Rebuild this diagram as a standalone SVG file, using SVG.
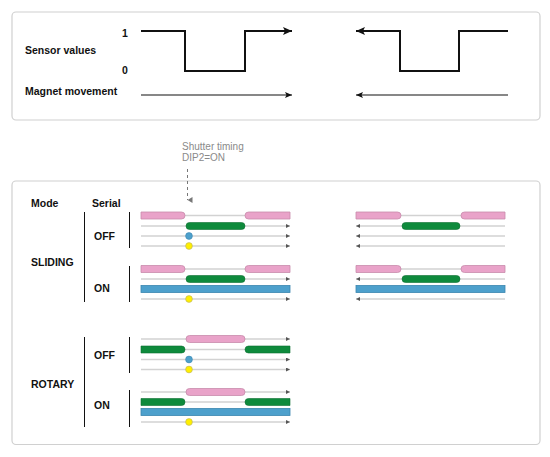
<svg xmlns="http://www.w3.org/2000/svg" width="550" height="457" viewBox="0 0 550 457">
<style>
.frame{fill:#fff;stroke:#d0d0d0;stroke-width:1.2}
.lbl{font-family:"Liberation Sans",Arial,sans-serif;font-weight:bold;font-size:10.5px;fill:#111}
.note{font-family:"Liberation Sans",Arial,sans-serif;font-size:10px;fill:#8a8a8a}
.wave{fill:none;stroke:#111;stroke-width:2}
.mag{fill:none;stroke:#111;stroke-width:1.1}
.vl{stroke:#111;stroke-width:1}
.track{stroke:#d2d2d2;stroke-width:1.3}
.pink{fill:#e9a3c9;stroke:#c88aab;stroke-width:0.8}
.green{fill:#0e8a3c;stroke:#0b6e30;stroke-width:0.6}
.blue{fill:#4da0cc;stroke:#3a86b0;stroke-width:0.8}
.bdot{fill:#4da0cc;stroke:#3a86b0;stroke-width:0.6}
.ydot{fill:#ffef00;stroke:#b8b070;stroke-width:0.6}
</style>
<defs>
<marker id="ah" markerWidth="10" markerHeight="10" refX="9" refY="4" orient="auto" markerUnits="userSpaceOnUse"><path d="M0,0 L9,4 L0,8 L2,4 Z" fill="#111"/></marker>
<marker id="ahs" markerWidth="8" markerHeight="8" refX="7" refY="3" orient="auto" markerUnits="userSpaceOnUse"><path d="M0,0 L7,3 L0,6 L1.5,3 Z" fill="#111"/></marker>
<marker id="tk" markerWidth="5" markerHeight="5" refX="4" refY="2" orient="auto" markerUnits="userSpaceOnUse"><path d="M0,0 L4,2 L0,4 Z" fill="#555"/></marker>
<marker id="dh" markerWidth="7" markerHeight="7" refX="3" refY="5" orient="auto" markerUnits="userSpaceOnUse"><path d="M0,0 L6,0 L3,5 Z" fill="#777"/></marker>
</defs>

<g id="top-panel">
<rect class="frame" x="12" y="12" width="528" height="108" rx="4"/>
<text class="lbl" x="25" y="54">Sensor values</text>
<text class="lbl" x="25" y="95">Magnet movement</text>
<text class="lbl" x="122" y="37">1</text>
<text class="lbl" x="122" y="74">0</text>
</g>
<g id="top-connectors">
<path class="wave" d="M141,31 H185 V71 H245 V31 H292" marker-end="url(#ah)"/>
<path class="wave" d="M508,31 H459 V71 H400 V31 H356" marker-end="url(#ah)"/>
<path class="mag" d="M141,95 H292" marker-end="url(#ahs)"/>
<path class="mag" d="M508,95 H356" marker-end="url(#ahs)"/>
</g>

<g id="bottom-panel">
<rect class="frame" x="12" y="181" width="528" height="263.5" rx="4"/>
<text class="lbl" x="31" y="207">Mode</text>
<text class="lbl" x="92" y="207">Serial</text>
<text class="lbl" x="31" y="266">SLIDING</text>
<text class="lbl" x="31" y="388">ROTARY</text>
<text class="lbl" x="94" y="240">OFF</text>
<text class="lbl" x="94" y="292">ON</text>
<text class="lbl" x="94" y="359">OFF</text>
<text class="lbl" x="94" y="409">ON</text>
<line class="vl" x1="84.5" y1="212" x2="84.5" y2="302"/>
<line class="vl" x1="84.5" y1="337" x2="84.5" y2="427"/>
<line class="vl" x1="129.5" y1="212" x2="129.5" y2="248"/>
<line class="vl" x1="129.5" y1="266" x2="129.5" y2="302"/>
<line class="vl" x1="129.5" y1="337" x2="129.5" y2="373"/>
<line class="vl" x1="129.5" y1="390" x2="129.5" y2="427"/>
</g>

<g id="shutter-note">
<text class="note" x="182" y="150">Shutter timing</text>
<text class="note" x="182" y="161">DIP2=ON</text>
<line x1="187.5" y1="169" x2="187.5" y2="200" stroke="#777" stroke-width="1" stroke-dasharray="3,3" marker-end="url(#dh)"/>
</g>

<g id="sliding-off-right">
<line class="track" x1="141" y1="215.5" x2="290" y2="215.5"/>
<path class="pink" d="M141,212 H181.5 A3.5,3.5 0 0 1 181.5,219 H141 Z"/>
<path class="pink" d="M290,212 H248.5 A3.5,3.5 0 0 0 248.5,219 H290 Z"/>
<line class="track" x1="141" y1="226" x2="290" y2="226" marker-end="url(#tk)"/>
<rect class="green" x="186" y="222.5" width="59" height="7" rx="3.5"/>
<line class="track" x1="141" y1="236" x2="290" y2="236" marker-end="url(#tk)"/>
<circle class="bdot" cx="189" cy="236" r="3.4"/>
<line class="track" x1="141" y1="246" x2="290" y2="246" marker-end="url(#tk)"/>
<circle class="ydot" cx="189" cy="246" r="3.4"/>
</g>

<g id="sliding-on-right">
<line class="track" x1="141" y1="269" x2="290" y2="269"/>
<path class="pink" d="M141,265.5 H181.5 A3.5,3.5 0 0 1 181.5,272.5 H141 Z"/>
<path class="pink" d="M290,265.5 H248.5 A3.5,3.5 0 0 0 248.5,272.5 H290 Z"/>
<line class="track" x1="141" y1="279" x2="290" y2="279" marker-end="url(#tk)"/>
<rect class="green" x="186" y="275.5" width="59" height="7" rx="3.5"/>
<rect class="blue" x="141" y="285.5" width="149" height="7"/>
<line class="track" x1="141" y1="299" x2="290" y2="299" marker-end="url(#tk)"/>
<circle class="ydot" cx="189" cy="299" r="3.4"/>
</g>

<g id="sliding-off-left">
<line class="track" x1="356" y1="215.5" x2="505" y2="215.5"/>
<path class="pink" d="M356,212 H397.5 A3.5,3.5 0 0 1 397.5,219 H356 Z"/>
<path class="pink" d="M505,212 H464.5 A3.5,3.5 0 0 0 464.5,219 H505 Z"/>
<line class="track" x1="505" y1="226" x2="356" y2="226" marker-end="url(#tk)"/>
<rect class="green" x="402" y="222.5" width="58" height="7" rx="3.5"/>
<line class="track" x1="505" y1="236" x2="356" y2="236" marker-end="url(#tk)"/>
<line class="track" x1="505" y1="246" x2="356" y2="246" marker-end="url(#tk)"/>
</g>

<g id="sliding-on-left">
<line class="track" x1="356" y1="269" x2="505" y2="269"/>
<path class="pink" d="M356,265.5 H397.5 A3.5,3.5 0 0 1 397.5,272.5 H356 Z"/>
<path class="pink" d="M505,265.5 H464.5 A3.5,3.5 0 0 0 464.5,272.5 H505 Z"/>
<line class="track" x1="505" y1="279" x2="356" y2="279" marker-end="url(#tk)"/>
<rect class="green" x="402" y="275.5" width="58" height="7" rx="3.5"/>
<rect class="blue" x="356" y="285.5" width="149" height="7"/>
<line class="track" x1="505" y1="299" x2="356" y2="299" marker-end="url(#tk)"/>
</g>

<g id="rotary-off">
<line class="track" x1="141" y1="339" x2="290" y2="339" marker-end="url(#tk)"/>
<rect class="pink" x="186" y="335.5" width="59" height="7" rx="3.5"/>
<line class="track" x1="141" y1="349.5" x2="290" y2="349.5"/>
<path class="green" d="M141,346 H181.5 A3.5,3.5 0 0 1 181.5,353 H141 Z"/>
<path class="green" d="M290,346 H248.5 A3.5,3.5 0 0 0 248.5,353 H290 Z"/>
<line class="track" x1="141" y1="359.5" x2="290" y2="359.5" marker-end="url(#tk)"/>
<circle class="bdot" cx="189" cy="359.5" r="3.4"/>
<line class="track" x1="141" y1="369.5" x2="290" y2="369.5" marker-end="url(#tk)"/>
<circle class="ydot" cx="189" cy="369.5" r="3.4"/>
</g>

<g id="rotary-on">
<line class="track" x1="141" y1="392" x2="290" y2="392" marker-end="url(#tk)"/>
<rect class="pink" x="186" y="388.5" width="59" height="7" rx="3.5"/>
<line class="track" x1="141" y1="402" x2="290" y2="402"/>
<path class="green" d="M141,398.5 H181.5 A3.5,3.5 0 0 1 181.5,405.5 H141 Z"/>
<path class="green" d="M290,398.5 H248.5 A3.5,3.5 0 0 0 248.5,405.5 H290 Z"/>
<rect class="blue" x="141" y="408.5" width="149" height="7"/>
<line class="track" x1="141" y1="422" x2="290" y2="422" marker-end="url(#tk)"/>
<circle class="ydot" cx="189" cy="422" r="3.4"/>
</g>
</svg>
